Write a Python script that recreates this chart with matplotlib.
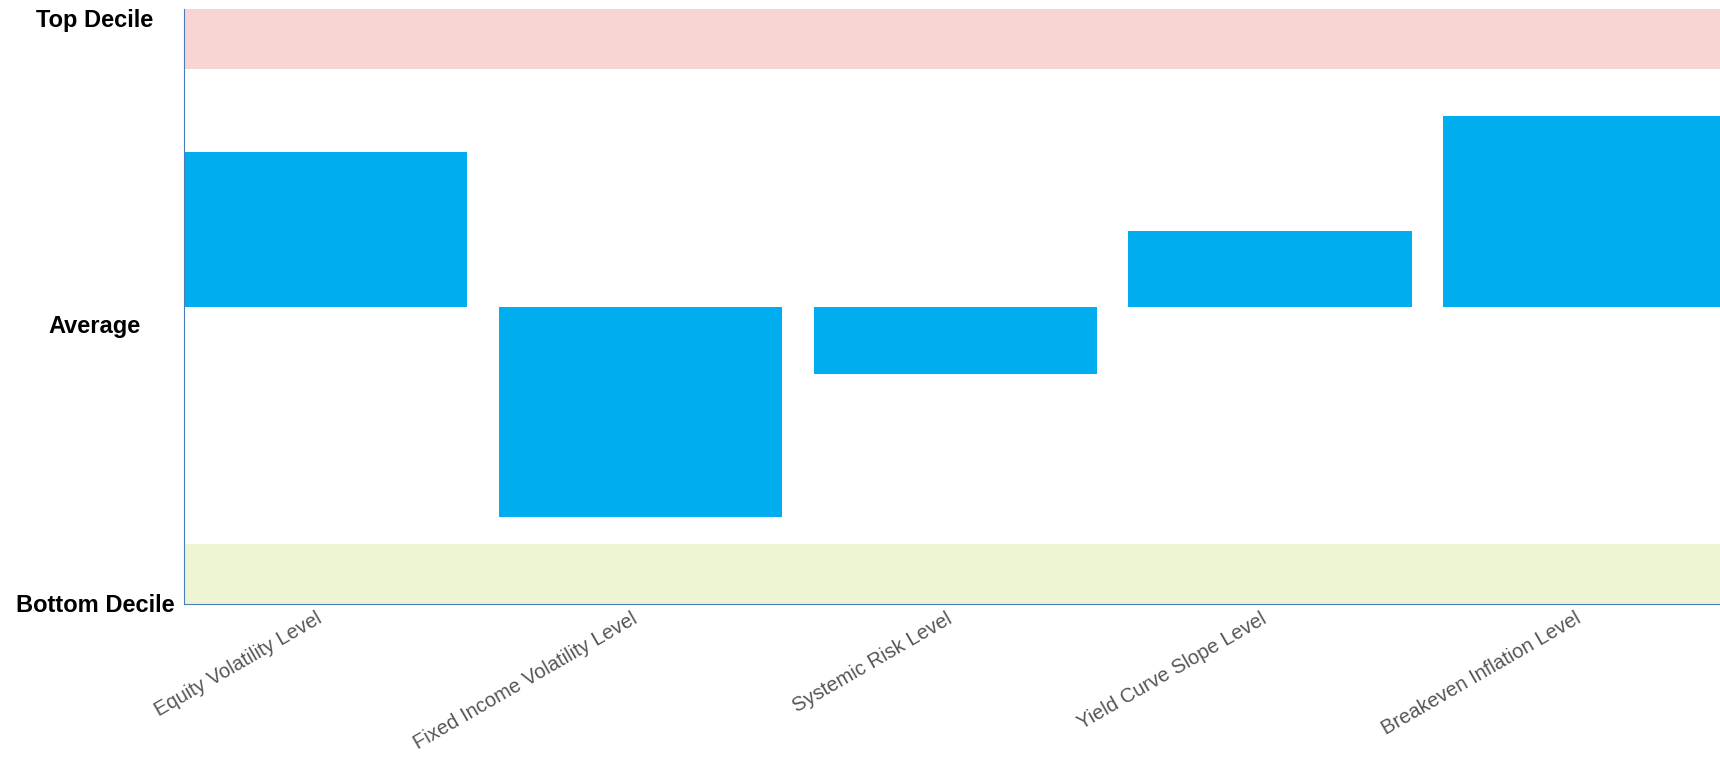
import matplotlib
matplotlib.use("Agg")
from matplotlib import pyplot as plt
from matplotlib.transforms import ScaledTranslation, blended_transform_factory

categories = ["Equity Volatility Level", "Fixed Income Volatility Level",
              "Systemic Risk Level", "Yield Curve Slope Level", "Breakeven Inflation Level"]
scores = [2.6, -3.54, -1.14, 1.27, 3.21]
y_ticks = [-5, 0, 5]
y_labels = ["Bottom Decile", "Average", "Top Decile"]

plt.rcParams['font.family'] = ['Liberation Sans', 'DejaVu Sans']
fig = plt.figure(figsize=(17.2, 7.62), dpi=100)
ax = fig.add_axes([0.107, 0.2075, 0.893, 0.7805])

ax.axhspan(4, 5, color='#f8d5d3', lw=0, zorder=0)
ax.axhspan(-5, -4, color='#eef5d3', lw=0, zorder=0)
ax.bar(range(len(categories)), scores, width=0.9, color='#00aeef', zorder=2)

ax.set_ylim(-5, 5)
ax.set_xlim(-0.45, 4.43)
ax.set_yticks(y_ticks)
ax.set_yticklabels([])
# centred labels left of the axis, nudged down a little
offsets_px = [-2, -20, -11]
base = blended_transform_factory(ax.transAxes, ax.transData)
for val, lab, dy in zip(y_ticks, y_labels, offsets_px):
    tr = base + ScaledTranslation(0, dy / 100, fig.dpi_scale_trans)
    ax.text(-0.058, val, lab, transform=tr, ha='center', va='center',
            fontsize=17, fontweight='bold', clip_on=False)
ax.set_xticks(range(len(categories)))
ax.set_xticklabels(categories, rotation=30, ha='right', fontsize=14.5, color='#555555')
ax.tick_params(length=0)
for s in ['top', 'right']:
    ax.spines[s].set_visible(False)
ax.spines['left'].set_color('#4a7ebb')
ax.spines['bottom'].set_color('#4a7ebb')
ax.spines['left'].set_linewidth(0.8)
ax.spines['bottom'].set_linewidth(0.8)

plt.savefig('out.png')
